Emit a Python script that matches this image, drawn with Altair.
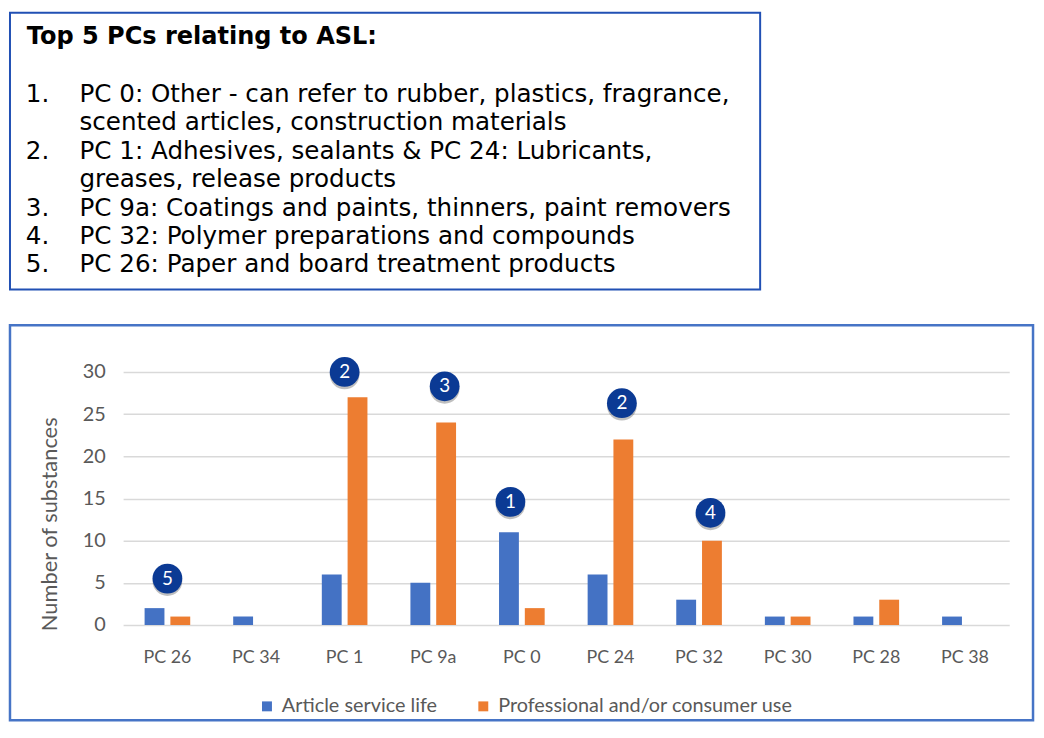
import altair as alt
import pandas as pd

# ---------------- data ----------------
categories = ["PC 26", "PC 34", "PC 1", "PC 9a", "PC 0", "PC 24", "PC 32", "PC 30", "PC 28", "PC 38"]
series = ["Article service life", "Professional and/or consumer use"]
article_service_life = [2, 1, 6, 5, 11, 6, 3, 1, 1, 1]
professional_consumer = [1, 0, 27, 24, 2, 22, 10, 1, 3, 0]
colors = ["#4472C4", "#ED7D31"]

badge_pcs = ["PC 26", "PC 1", "PC 9a", "PC 0", "PC 24", "PC 32"]
badge_labels = ["5", "2", "3", "1", "2", "4"]
badge_heights = [5.5, 30.0, 28.3, 14.6, 26.3, 13.3]
badge_anchor = ["center", "center", "right", "left", "right", "right"]
anchor_order = ["left", "center", "right"]

box_title = "Top 5 PCs relating to ASL:"
box_numbers = ["1.", "", "2.", "", "3.", "4.", "5."]
box_lines = [
    "PC 0: Other - can refer to rubber, plastics, fragrance,",
    "scented articles, construction materials",
    "PC 1: Adhesives, sealants & PC 24: Lubricants,",
    "greases, release products",
    "PC 9a: Coatings and paints, thinners, paint removers",
    "PC 32: Polymer preparations and compounds",
    "PC 26: Paper and board treatment products",
]

# ---------------- tables ----------------
rows = []
for i, pc in enumerate(categories):
    rows.append({"pc": pc, "series": series[0], "value": article_service_life[i]})
    rows.append({"pc": pc, "series": series[1], "value": professional_consumer[i]})
bars_df = pd.DataFrame(rows)
badges_df = pd.DataFrame({"pc": badge_pcs, "label": badge_labels,
                          "value": badge_heights, "anchor": badge_anchor})
one = pd.DataFrame({"k": [0]})

CHART_FONT = "Lato"
BOX_FONT = "DejaVu Sans"
LINE_H = 28.6
FIRST_BASE = -272

x_enc = alt.X("pc:N", sort=categories,
              scale=alt.Scale(paddingInner=0.485, paddingOuter=0.2425),
              axis=alt.Axis(title=None, labelAngle=0, domain=False, ticks=False,
                            labelPadding=24, labelFontSize=18, labelColor="#595959",
                            labelFont=CHART_FONT, grid=False))
y_enc = alt.Y("value:Q", scale=alt.Scale(domain=[0, 30], nice=False),
              axis=alt.Axis(title="Number of substances", values=[0, 5, 10, 15, 20, 25, 30],
                            domain=False, ticks=False, labelPadding=18,
                            labelFontSize=20, labelColor="#595959", labelFont=CHART_FONT,
                            gridColor="#d9d9d9", gridWidth=1.5,
                            titleFont=CHART_FONT, titleFontSize=22, titleFontWeight="normal",
                            titleColor="#595959", titleAngle=270, titleX=-74, titleY=153,
                            titleAlign="center", titleBaseline="middle"))

bars = alt.Chart(bars_df).mark_bar().encode(
    x=x_enc,
    y=y_enc,
    xOffset=alt.XOffset("series:N", sort=series, scale=alt.Scale(paddingInner=0.23)),
    color=alt.Color("series:N", sort=series,
                    scale=alt.Scale(domain=series, range=colors),
                    legend=alt.Legend(title=None, orient="none", legendX=135, legendY=327,
                                      direction="horizontal", symbolType="square",
                                      symbolSize=100, symbolStrokeWidth=0,
                                      labelFont=CHART_FONT, labelFontSize=20,
                                      labelColor="#595959", labelOffset=5,
                                      labelLimit=500, columnPadding=36)),
)

badge_x = alt.X("pc:N", sort=categories)
badge_off = alt.XOffset("anchor:N", sort=anchor_order,
                        scale=alt.Scale(domain=anchor_order, paddingInner=0, paddingOuter=1))
shadow = alt.Chart(badges_df).mark_circle(size=900, color="#000000", opacity=0.25).encode(
    x=badge_x, xOffset=badge_off, y="value:Q", yOffset=alt.value(2.5))
circles = alt.Chart(badges_df).mark_circle(size=900, color="#0b3a94", opacity=1).encode(
    x=badge_x, xOffset=badge_off, y="value:Q")
badge_text = alt.Chart(badges_df).mark_text(color="white", fontSize=19, font=CHART_FONT,
                                            baseline="middle", align="center").encode(
    x=badge_x, xOffset=badge_off, y="value:Q", text="label:N")

# frames (pixel offsets relative to plot origin)
top_box = alt.Chart(one).mark_rect(fillOpacity=0, stroke="#2150b4", strokeWidth=2).encode(
    x=alt.value(-114), x2=alt.value(642), y=alt.value(-362), y2=alt.value(-83))
chart_box = alt.Chart(one).mark_rect(fillOpacity=0, stroke="#4674c6", strokeWidth=2.5).encode(
    x=alt.value(-114), x2=alt.value(917), y=alt.value(-47), y2=alt.value(351))

title_txt = alt.Chart(one).mark_text(font=BOX_FONT, fontSize=24.2, fontWeight="bold",
                                     color="#000000", align="left", baseline="alphabetic").encode(
    x=alt.value(-97), y=alt.value(-331), text=alt.value(box_title))

# numbers: one text mark per non-empty entry (blank continuation lines skipped)
num_layers = []
for i, n in enumerate(box_numbers):
    if n:
        num_layers.append(
            alt.Chart(one).mark_text(font=BOX_FONT, fontSize=24.8, color="#000000",
                                     align="left", baseline="alphabetic").encode(
                x=alt.value(-98), y=alt.value(FIRST_BASE + i * LINE_H), text=alt.value(n)))

lines_txt = alt.Chart(one).mark_text(font=BOX_FONT, fontSize=24.8, color="#000000", align="left",
                                     baseline="alphabetic", lineHeight=LINE_H).encode(
    x=alt.value(-44), y=alt.value(FIRST_BASE), text=alt.value(box_lines))

chart = alt.layer(
    top_box, chart_box, title_txt, *num_layers, lines_txt,
    bars, shadow, circles, badge_text,
).resolve_scale(xOffset="independent").properties(
    width=893, height=255,
    autosize=alt.AutoSizeParams(type="none"),
    padding={"left": 116, "top": 364, "right": 27, "bottom": 99},
    background="white",
).configure_view(strokeWidth=0)

chart.save("out.html", embed_options={"renderer": "svg", "actions": False})
